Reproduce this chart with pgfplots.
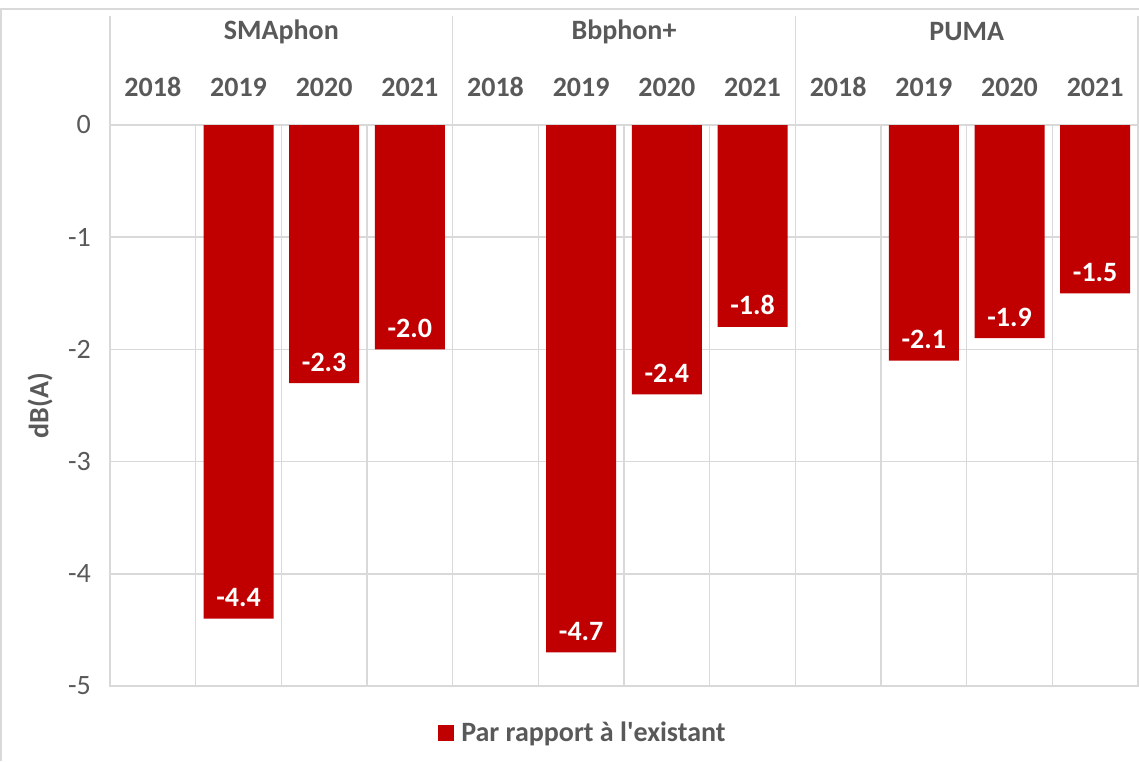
\documentclass[border=0pt]{standalone}
\usepackage{fontspec}
\setmainfont{Carlito}
\usepackage{pgfplots}
\pgfplotsset{compat=1.18}
\definecolor{barred}{HTML}{C00000}
\definecolor{gridc}{HTML}{D9D9D9}
\definecolor{txt}{HTML}{595959}
\begin{document}
\begin{tikzpicture}
\path[use as bounding box] (-55pt,-37.5pt) rectangle (514.5pt,343pt);
\fill[gridc] (-55pt,338pt) rectangle (514.5pt,339.2pt);
\fill[gridc] (-55pt,-37.5pt) rectangle (-53.9pt,339.2pt);
\begin{axis}[
  at={(0,0)}, anchor=south west,
  width=514pt, height=280.5pt, scale only axis,
  xmin=-0.5, xmax=11.5, ymin=-5, ymax=0,
  ybar, bar width=35pt,
  xtick={0,...,11},
  xticklabels={2018,2019,2020,2021,2018,2019,2020,2021,2018,2019,2020,2021},
  xticklabel pos=upper,
  xticklabel style={font=\fontsize{14}{16}\selectfont\bfseries, text=txt, anchor=center, yshift=19pt},
  minor xtick={0.5,1.5,...,10.5},
  xminorgrids, ymajorgrids,
  grid style={gridc, line width=0.75pt},
  minor grid style={gridc, line width=0.75pt},
  ytick={-5,-4,-3,-2,-1,0},
  yticklabel style={font=\fontsize{14}{16}\selectfont, text=txt, xshift=-6pt},
  major tick length=0pt, minor tick length=0pt,
  axis line style={gridc, line width=0.75pt},
  /pgf/number format/assume math mode=true,
  ylabel={dB(A)},
  ylabel style={font=\fontsize{14}{16}\selectfont\bfseries, text=txt, at={(axis description cs:-0.068,0.5)}, anchor=center},
  legend style={at={(axis description cs:0.461,-0.084)}, anchor=center, draw=none, fill=none, font=\fontsize{14}{16}\selectfont\bfseries, text=txt},
  clip=false,
]
\addplot[fill=barred, draw=none,
  nodes near coords={\pgfmathprintnumber[fixed,fixed zerofill,precision=1,assume math mode=true]{\pgfplotspointmeta}},
  nodes near coords style={anchor=base, yshift=6pt, inner sep=0pt, font=\fontsize{14}{16}\selectfont\bfseries, text=white},
  legend image code/.code={\fill[barred] (0pt,-4pt) rectangle (8pt,4pt);},
] coordinates {(1,-4.4) (2,-2.3) (3,-2.0) (5,-4.7) (6,-2.4) (7,-1.8) (9,-2.1) (10,-1.9) (11,-1.5)};
\addlegendentry{\hspace{1.5pt}Par rapport à l\textquotesingle existant}
\draw[gridc, line width=0.75pt] (axis cs:-0.5,0) -- ++(0pt,54.5pt);
\draw[gridc, line width=0.75pt] (axis cs:3.5,0) -- ++(0pt,54.5pt);
\draw[gridc, line width=0.75pt] (axis cs:7.5,0) -- ++(0pt,54.5pt);
\draw[gridc, line width=0.75pt] (axis cs:11.5,0) -- ++(0pt,54.5pt);
\node[font=\fontsize{14}{16}\selectfont\bfseries, text=txt] at ([yshift=46.5pt]axis cs:1.5,0) {SMAphon};
\node[font=\fontsize{14}{16}\selectfont\bfseries, text=txt] at ([yshift=46.5pt]axis cs:5.5,0) {Bbphon+};
\node[font=\fontsize{14}{16}\selectfont\bfseries, text=txt] at ([yshift=46.5pt]axis cs:9.5,0) {PUMA};
\end{axis}
\end{tikzpicture}
\end{document}
